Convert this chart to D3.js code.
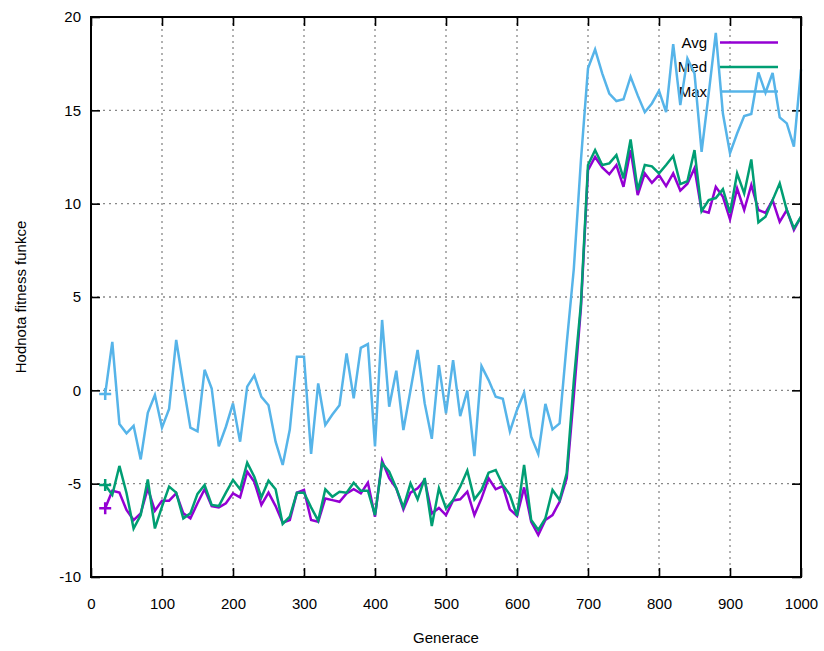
<!DOCTYPE html>
<html>
<head>
<meta charset="utf-8">
<script src="https://cdn.jsdelivr.net/npm/d3@7"></script>
<style>
    body { margin: 0; background: #fff; }
    text { font-family: 'Liberation Sans', Arial, sans-serif; }
</style>
</head>
<body>
<div id="svg"></div>
<script>
// generace (osa x)
var generace = [20, 30, 40, 50, 60, 70, 80, 90, 100,
    110, 120, 130, 140, 150, 160, 170, 180, 190, 200,
    210, 220, 230, 240, 250, 260, 270, 280, 290, 300,
    310, 320, 330, 340, 350, 360, 370, 380, 390, 400,
    410, 420, 430, 440, 450, 460, 470, 480, 490, 500,
    510, 520, 530, 540, 550, 560, 570, 580, 590, 600,
    610, 620, 630, 640, 650, 660, 670, 680, 690, 700,
    710, 720, 730, 740, 750, 760, 770, 780, 790, 800,
    810, 820, 830, 840, 850, 860, 870, 880, 890, 900,
    910, 920, 930, 940, 950, 960, 970, 980, 990, 1000];

var avgData = [-6.32, -5.38, -5.48, -6.41, -6.95, -6.59, -5.25, -6.45, -5.91,
    -5.91, -5.52, -6.59, -6.86, -6.05, -5.3, -6.2, -6.27, -6.05, -5.52,
    -5.73, -4.36, -4.9, -6.14, -5.48, -6.2, -7.09, -6.95, -5.48, -5.34,
    -6.95, -7.04, -5.79, -5.88, -5.97, -5.52, -5.3, -5.52, -4.95, -6.77,
    -3.77, -4.71, -5.25, -6.38, -5.48, -5.25, -4.8, -6.6, -6.3, -6.68,
    -5.9, -5.84, -5.43, -6.68, -5.79, -4.71, -5.3, -5.13, -6.38, -6.73,
    -5.2, -7.04, -7.75, -6.95, -6.68, -5.97, -4.71, -0.3, 4.4, 11.8,
    12.5, 11.94, 11.58, 12.07, 10.9, 12.87, 10.46, 11.62, 11.12, 11.53,
    10.94, 11.62, 10.7, 11.07, 11.9, 9.62, 9.51, 10.9, 10.37, 9.16,
    10.82, 9.66, 11.0, 9.66, 9.51, 10.19, 9.03, 9.66, 8.59, 9.3];

var medData = [-5.07, -5.6, -4.05, -5.5, -7.4, -6.68, -4.77, -7.4, -6.23,
    -5.16, -5.48, -6.86, -6.59, -5.55, -5.07, -6.14, -6.2, -5.48, -4.8,
    -5.3, -3.88, -4.63, -5.73, -4.84, -5.3, -7.16, -6.77, -5.48, -5.48,
    -6.27, -6.98, -5.3, -5.7, -5.43, -5.48, -4.95, -5.38, -5.38, -6.68,
    -3.91, -4.36, -5.25, -6.27, -4.98, -5.84, -4.71, -7.27, -5.25, -6.32,
    -5.88, -5.16, -4.3, -5.84, -5.34, -4.41, -4.27, -5.07, -5.6, -6.73,
    -4.0, -6.95, -7.48, -6.86, -5.34, -5.88, -4.45, 0.5, 4.6, 12.07,
    12.87, 12.07, 12.16, 12.6, 11.35, 13.44, 10.73, 12.07, 12.0, 11.62,
    12.07, 12.55, 11.05, 11.2, 12.87, 9.6, 10.19, 10.3, 10.78, 9.5,
    11.62, 10.55, 12.37, 9.0, 9.3, 10.19, 11.09, 9.66, 8.68, 9.3];

var maxData = [-0.2, 2.6, -1.8, -2.3, -1.9, -3.7, -1.2, -0.25, -2.0,
    -1.0, 2.7, 0.3, -2.0, -2.2, 1.1, 0.1, -3.0, -1.95, -0.7,
    -2.75, 0.2, 0.8, -0.35, -0.8, -2.75, -4.0, -2.1, 1.8, 1.8,
    -3.4, 0.37, -1.86, -1.3, -0.8, 1.98, -0.43, 2.28, 2.48, -3.0,
    3.77, -0.88, 1.05, -2.13, 0.0, 2.16, -0.7, -2.6, 1.35, -1.23,
    1.62, -1.38, -0.02, -3.52, 1.3, 0.55, -0.34, -0.45, -2.2, -1.05,
    -0.13, -2.48, -3.41, -0.73, -2.09, -1.77, 2.5, 6.5, 12.3, 17.25,
    18.26, 16.98, 15.9, 15.5, 15.59, 16.8, 15.8, 14.9, 15.37, 16.05,
    14.9, 18.55, 15.28, 17.78, 16.98, 12.78, 15.9, 19.15, 14.83, 12.7,
    13.76, 14.69, 14.8, 17.03, 15.94, 17.0, 14.62, 14.3, 13.05, 17.2];

var seriesNames = ['Avg', 'Med', 'Max'];
var seriesColors = ['#9400d3', '#009e73', '#56b4e9'];
var xTicks = [0, 100, 200, 300, 400, 500, 600, 700, 800, 900, 1000];
var yTicks = [-10, -5, 0, 5, 10, 15, 20];

// rozmery
var width = 824;
var height = 651;
var padding = { top: 17, right: 23, bottom: 74, left: 91 };
var plotW = width - padding.left - padding.right;
var plotH = height - padding.top - padding.bottom;
var lineW = 2.5;

var svg = d3.select('#svg')
    .append('svg')
    .attr('width', width)
    .attr('height', height);

svg.append('rect')
    .attr('width', width)
    .attr('height', height)
    .attr('fill', '#fff');

var xScale = d3.scaleLinear().domain([0, 1000]).range([0, plotW]);
var yScale = d3.scaleLinear().domain([-10, 20]).range([plotH, 0]);

var g = svg.append('g')
    .attr('transform', 'translate(' + padding.left + ',' + padding.top + ')');

// mrizka
g.append('g')
    .selectAll('line')
    .data(xTicks.slice(1, -1))
    .enter()
    .append('line')
    .attr('x1', function (d) { return xScale(d); })
    .attr('x2', function (d) { return xScale(d); })
    .attr('y1', 0)
    .attr('y2', plotH)
    .attr('stroke', '#888')
    .attr('stroke-width', 1.3)
    .attr('stroke-dasharray', '2,4');
g.append('g')
    .selectAll('line')
    .data(yTicks.slice(1, -1))
    .enter()
    .append('line')
    .attr('x1', 0)
    .attr('x2', plotW)
    .attr('y1', function (d) { return yScale(d); })
    .attr('y2', function (d) { return yScale(d); })
    .attr('stroke', '#888')
    .attr('stroke-width', 1.3)
    .attr('stroke-dasharray', '2,4');

// osy (ticky dovnitr)
var plain = function (d) { return String(d); };
var xAxis = d3.axisBottom(xScale).tickValues(xTicks).tickSizeInner(-9).tickSizeOuter(0).tickPadding(21).tickFormat(plain);
var xAxisTop = d3.axisTop(xScale).tickValues(xTicks).tickSizeInner(-9).tickSizeOuter(0).tickFormat('');
var yAxis = d3.axisLeft(yScale).tickValues(yTicks).tickSizeInner(-9).tickSizeOuter(0).tickPadding(10).tickFormat(plain);
var yAxisRight = d3.axisRight(yScale).tickValues(yTicks).tickSizeInner(-9).tickSizeOuter(0).tickFormat('');

g.append('g').attr('class', 'axis').attr('transform', 'translate(0,' + plotH + ')').call(xAxis);
g.append('g').attr('class', 'axis').call(xAxisTop);
g.append('g').attr('class', 'axis').call(yAxis);
g.append('g').attr('class', 'axis').attr('transform', 'translate(' + plotW + ',0)').call(yAxisRight);

g.selectAll('.axis .domain').remove();
g.selectAll('.axis line').attr('stroke', '#000').attr('stroke-width', 1.6);
g.selectAll('.axis text')
    .attr('fill', '#000')
    .style('font-size', '15px')
    .style('font-family', "'Liberation Sans', Arial, sans-serif");

// legenda
var legend = g.append('g');
seriesNames.forEach(function (name, i) {
    var ly = 25.5 + i * 24.5;
    legend.append('text')
        .attr('x', 616)
        .attr('y', ly)
        .attr('dy', '0.35em')
        .attr('text-anchor', 'end')
        .style('font-size', '15px')
        .text(name);
    legend.append('line')
        .attr('x1', 629)
        .attr('x2', 687)
        .attr('y1', ly)
        .attr('y2', ly)
        .attr('stroke', seriesColors[i])
        .attr('stroke-width', lineW);
});

// data
var allSeries = [avgData, medData, maxData];
var linePath = d3.line()
    .x(function (d, i) { return xScale(generace[i]); })
    .y(function (d) { return yScale(d); });

allSeries.forEach(function (values, k) {
    g.append('path')
        .attr('d', linePath(values))
        .attr('fill', 'none')
        .attr('stroke', seriesColors[k])
        .attr('stroke-width', lineW);

    // znacka + na prvnim bode
    var px = xScale(generace[0]);
    var py = yScale(values[0]);
    g.append('path')
        .attr('d', 'M' + (px - 6) + ',' + py + 'H' + (px + 6) + 'M' + px + ',' + (py - 6) + 'V' + (py + 6))
        .attr('stroke', seriesColors[k])
        .attr('stroke-width', lineW);
});

// ramecek
g.append('rect')
    .attr('width', plotW)
    .attr('height', plotH)
    .attr('fill', 'none')
    .attr('stroke', '#000')
    .attr('stroke-width', 2);

// popisky os
svg.append('text')
    .attr('x', padding.left + plotW / 2)
    .attr('y', 638)
    .attr('dy', '0.35em')
    .attr('text-anchor', 'middle')
    .style('font-size', '15px')
    .text('Generace');

svg.append('text')
    .attr('transform', 'translate(21,' + (padding.top + plotH / 2) + ') rotate(-90)')
    .attr('dy', '0.35em')
    .attr('text-anchor', 'middle')
    .style('font-size', '15px')
    .text('Hodnota fitness funkce');
</script>
</body>
</html>
